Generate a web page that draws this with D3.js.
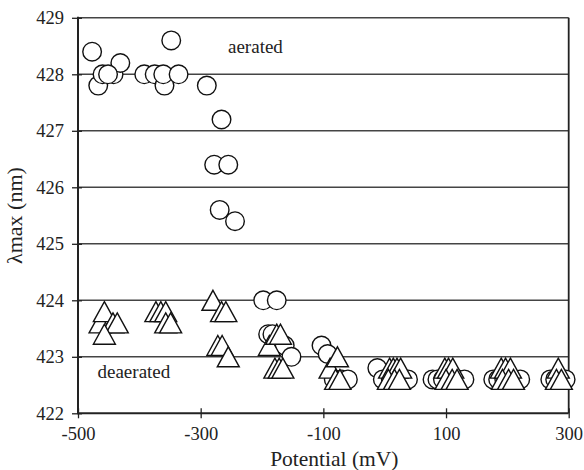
<!DOCTYPE html>
<html>
<head>
    <title>lambda max vs potential</title>
    <style>
        body {
            margin: 0;
            padding: 0;
            background: #fff;
        }
        svg text {
            font-family: "Liberation Serif", "Times New Roman", serif;
            fill: #222;
        }
    </style>
</head>
<body>
    <div id="chart"></div>

    <script src="https://d3js.org/d3.v7.min.js"></script>
    <script>
        // aerated series (circles)
        const aeratedX = [-477, -467, -460, -442, -431, -451,
            -392, -375, -359, -361, -348, -336,
            -290, -266, -278, -255, -269, -244,
            -198, -176,
            -190, -183, -163, -152,
            -103, -93, -83, -70, -60,
            -12, -3, 10, 28, 38,
            78, 86, 95, 120, 130,
            177, 185, 195, 212, 221,
            270, 278, 295];
        const aeratedY = [428.4, 427.8, 428.0, 428.0, 428.2, 428.0,
            428.0, 428.0, 427.8, 428.0, 428.6, 428.0,
            427.8, 427.2, 426.4, 426.4, 425.6, 425.4,
            424.0, 424.0,
            423.4, 423.4, 423.2, 423.0,
            423.2, 423.05, 422.6, 422.6, 422.6,
            422.8, 422.6, 422.6, 422.6, 422.6,
            422.6, 422.6, 422.6, 422.6, 422.6,
            422.6, 422.6, 422.6, 422.6, 422.6,
            422.6, 422.6, 422.6];

        // deaerated series (triangles)
        const deaeratedX = [-464, -457, -443, -436, -457,
            -373, -365, -357, -357, -349,
            -280, -266, -259, -272, -265, -255,
            -188, -176, -170, -179, -172, -166,
            -89, -77, -80, -73,
            8, 14, 20, 26, 6, 16, 24,
            98, 104, 111, 100, 110, 118,
            190, 197, 205, 192, 202, 210,
            283, 280, 288];
        const deaeratedY = [423.6, 423.8, 423.6, 423.6, 423.4,
            423.8, 423.8, 423.8, 423.6, 423.6,
            424.0, 423.8, 423.8, 423.2, 423.2, 423.0,
            423.2, 423.4, 423.4, 422.8, 422.8, 422.8,
            422.8, 423.0, 422.6, 422.6,
            422.8, 422.8, 422.8, 422.8, 422.6, 422.6, 422.6,
            422.8, 422.8, 422.8, 422.6, 422.6, 422.6,
            422.8, 422.8, 422.8, 422.6, 422.6, 422.6,
            422.8, 422.6, 422.6];

        const xTicks = [-500, -300, -100, 100, 300];
        const yTicks = [422, 423, 424, 425, 426, 427, 428, 429];

        const width = 584, height = 470;
        const plotLeft = 78, plotRight = 568.7, plotTop = 17.8, plotBottom = 413.3;

        const svg = d3.select('#chart').append('svg')
            .attr('width', width)
            .attr('height', height);

        const x = d3.scaleLinear().domain([-500, 300]).range([plotLeft, plotRight]);
        const y = d3.scaleLinear().domain([422, 429]).range([plotBottom, plotTop]);

        // gridlines
        svg.append('g').selectAll('line')
            .data(yTicks.filter(d => d > 422))
            .enter().append('line')
            .attr('x1', plotLeft).attr('x2', plotRight)
            .attr('y1', d => y(d)).attr('y2', d => y(d))
            .attr('stroke', '#444')
            .attr('stroke-width', 1.5);

        // right frame
        svg.append('line')
            .attr('x1', plotRight).attr('x2', plotRight)
            .attr('y1', plotTop).attr('y2', plotBottom)
            .attr('stroke', '#222')
            .attr('stroke-width', 1.8);

        // axes
        const xAxis = svg.append('g')
            .attr('transform', `translate(0,${plotBottom})`)
            .call(d3.axisBottom(x).tickValues(xTicks).tickSize(5).tickFormat(d3.format('d')));
        xAxis.select('.domain').remove();
        xAxis.selectAll('.tick line').attr('y1', -5).attr('y2', 5).attr('stroke', '#222').attr('stroke-width', 1.3);
        xAxis.selectAll('.tick text')
            .attr('y', 27)
            .attr('dy', null)
            .style('font-size', '18.5px')
            .text(d => d < 0 ? '-' + Math.abs(d) : d);

        svg.append('line')
            .attr('x1', plotLeft).attr('x2', plotRight)
            .attr('y1', plotBottom).attr('y2', plotBottom)
            .attr('stroke', '#222')
            .attr('stroke-width', 2);

        const yAxis = svg.append('g')
            .attr('transform', `translate(${plotLeft},0)`)
            .call(d3.axisLeft(y).tickValues(yTicks).tickSize(6).tickFormat(d3.format('d')));
        yAxis.select('.domain').remove();
        yAxis.selectAll('.tick line').attr('x1', -6).attr('x2', 4).attr('stroke', '#222').attr('stroke-width', 1.3);
        yAxis.selectAll('.tick text')
            .attr('x', -14)
            .style('font-size', '18.5px');

        svg.append('line')
            .attr('x1', plotLeft).attr('x2', plotLeft)
            .attr('y1', plotTop - 1).attr('y2', plotBottom + 1)
            .attr('stroke', '#222')
            .attr('stroke-width', 2);

        // markers: circles first, triangles on top
        const aerated = aeratedX.map((v, i) => ({ x: v, y: aeratedY[i] }));
        const deaerated = deaeratedX.map((v, i) => ({ x: v, y: deaeratedY[i] }));

        svg.append('g').selectAll('circle')
            .data(aerated)
            .enter().append('circle')
            .attr('cx', d => x(d.x))
            .attr('cy', d => y(d.y))
            .attr('r', 9.3)
            .attr('fill', '#fff')
            .attr('stroke', '#111')
            .attr('stroke-width', 1.4);

        const tri = 'M0,-10L11,10L-11,10Z';
        svg.append('g').selectAll('path')
            .data(deaerated)
            .enter().append('path')
            .attr('d', tri)
            .attr('transform', d => `translate(${x(d.x)},${y(d.y)})`)
            .attr('fill', '#fff')
            .attr('stroke', '#111')
            .attr('stroke-width', 1.4)
            .attr('stroke-linejoin', 'miter');

        // series labels
        svg.append('text')
            .attr('x', 228).attr('y', 52.7)
            .style('font-size', '19px')
            .text('aerated');
        svg.append('text')
            .attr('x', 97.5).attr('y', 377.7)
            .style('font-size', '19px')
            .text('deaerated');

        // axis titles
        svg.append('text')
            .attr('x', (plotLeft + plotRight) / 2 + 11)
            .attr('y', 465.5)
            .attr('text-anchor', 'middle')
            .style('font-size', '21.5px')
            .text('Potential (mV)');

        svg.append('text')
            .attr('transform', `translate(22,${(plotTop + plotBottom) / 2}) rotate(-90)`)
            .attr('text-anchor', 'middle')
            .style('font-size', '22px')
            .text('λmax (nm)');
    </script>
</body>
</html>
